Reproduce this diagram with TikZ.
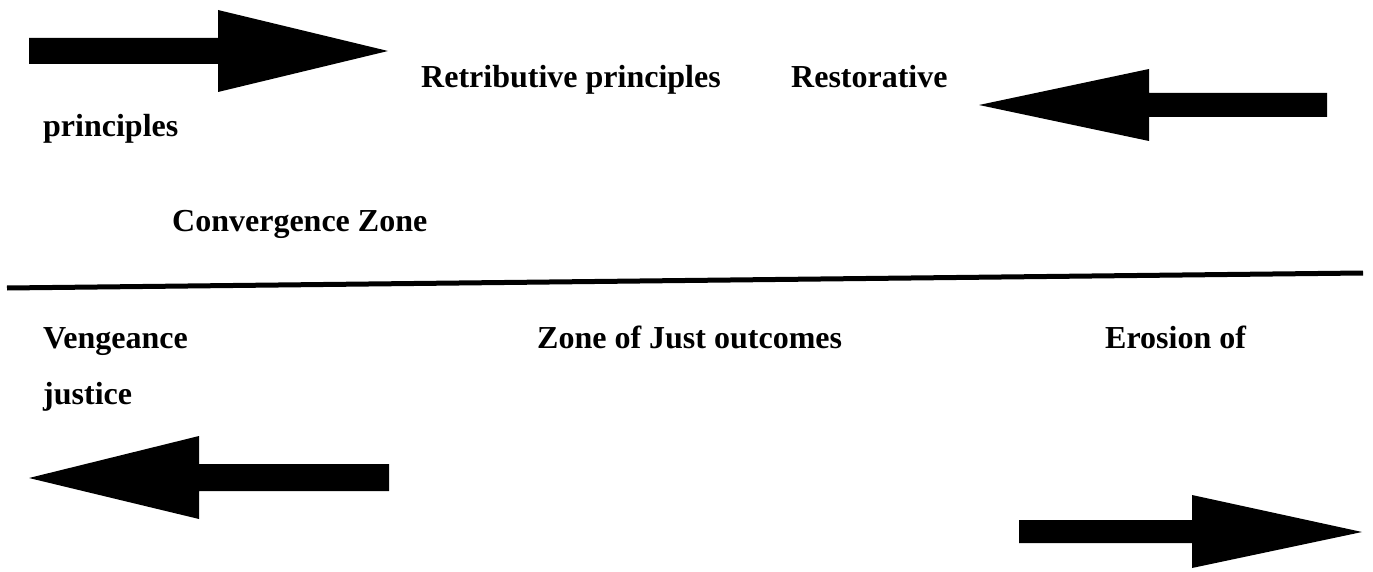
\documentclass[tikz,border=0pt]{standalone}
\usepackage{fontspec}
\setmainfont{Liberation Serif}
\usepackage{tikz}
\usetikzlibrary{positioning}

\tikzset{
  label text/.style={anchor=base west, inner sep=0pt, font=\fontsize{32}{38}\selectfont\bfseries},
  block arrow/.style={fill=black}
}

\begin{document}
\begin{tikzpicture}[x=1pt, y=-1pt]
			\useasboundingbox (0,0) rectangle (1373,572);
			% upper labels
			\node at (421,88) (retrib) [label text] {Retributive principles};
			\node at (791,88) (restor) [label text] {Restorative};
			\node at (43,137) (princ) [label text] {principles};
			\node at (172,231) (conv) [label text] {Convergence Zone};
			% lower labels
			\node at (43,348) (veng) [label text] {Vengeance};
			\node at (537,348) (zone) [label text] {Zone of Just outcomes};
			\node at (1105,348) (erosion) [label text] {Erosion of};
			\node at (43,404) (justice) [label text] {justice};
			% dividing line
			\coordinate (lineL) at (7,288);
			\coordinate (lineR) at (1363,273);
			\draw[line width=5pt] (lineL) -- (lineR);
			% block arrows
			\fill[block arrow] (29,38) -- (218,38) -- (218,10) -- (388,51) -- (218,92) -- (218,64) -- (29,64) -- cycle;
			\fill[block arrow] (1327,93) -- (1149,93) -- (1149,69) -- (979,105) -- (1149,141) -- (1149,117) -- (1327,117) -- cycle;
			\fill[block arrow] (389,464) -- (199,464) -- (199,436) -- (29,478) -- (199,519) -- (199,491) -- (389,491) -- cycle;
			\fill[block arrow] (1019,520) -- (1192,520) -- (1192,495) -- (1362,532) -- (1192,568) -- (1192,543) -- (1019,543) -- cycle;
		\end{tikzpicture}
\end{document}
